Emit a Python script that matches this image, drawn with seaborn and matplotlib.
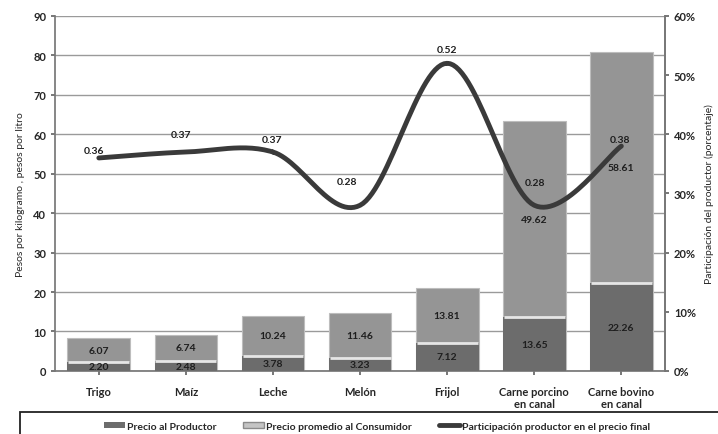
import numpy as np
import pandas as pd
import matplotlib
matplotlib.use("Agg")
import matplotlib.pyplot as plt
import seaborn as sns
from matplotlib.patches import Patch, Rectangle
from matplotlib.lines import Line2D

productos = ["Trigo", "Maíz", "Leche", "Melón", "Frijol",
             "Carne porcino\nen canal", "Carne bovino\nen canal"]
precio_productor = [2.20, 2.48, 3.78, 3.23, 7.12, 13.65, 22.26]
precio_consumidor = [6.07, 6.74, 10.24, 11.46, 13.81, 49.62, 58.61]
participacion = [0.36, 0.37, 0.37, 0.28, 0.52, 0.28, 0.38]

df = pd.DataFrame({"Producto": productos,
                   "Productor": precio_productor,
                   "Consumidor": precio_consumidor,
                   "Participacion": participacion})
df["Total"] = df["Productor"] + df["Consumidor"]

sns.set_theme(style="white")
plt.rcParams["font.family"] = ["Lato", "DejaVu Sans"]

fig, ax = plt.subplots(figsize=(7.18, 4.35), dpi=100)
fig.subplots_adjust(left=0.077, right=0.926, top=0.961, bottom=0.145)

c_prod = "#6c6c6c"
c_cons = "#959595"
c_line = "#3a3a3a"
c_txt = "#1e1e1e"

sns.barplot(data=df, x="Producto", y="Total", color=c_cons, saturation=1,
            width=0.72, edgecolor="#bdbdbd", linewidth=0.8, ax=ax, zorder=2)
sns.barplot(data=df, x="Producto", y="Productor", color=c_prod, saturation=1,
            width=0.72, edgecolor="none", ax=ax, zorder=3)

xs = np.arange(len(df))
ax.hlines(df["Productor"], xs - 0.35, xs + 0.35, color="#e6e6e6", lw=2, zorder=4)

for i, row in df.iterrows():
    ax.text(i, row["Productor"] / 2, f"{row['Productor']:.2f}", ha="center",
            va="center", fontsize=7.5, fontweight="bold", color=c_txt, zorder=6)
    ax.text(i, row["Productor"] + row["Consumidor"] / 2, f"{row['Consumidor']:.2f}",
            ha="center", va="center", fontsize=7.5, fontweight="bold", color=c_txt,
            zorder=6)

ax.set_ylim(0, 90)
ax.set_yticks(range(0, 91, 10))
ax.set_xlim(-0.5, len(df) - 0.5)
ax.yaxis.grid(True, color="#9a9a9a", lw=1)
ax.set_axisbelow(True)
ax.set_xlabel("")
ax.set_ylabel("Pesos por kilogramo , pesos por litro", fontsize=7.5, labelpad=6)
ax.tick_params(axis="y", labelsize=8, length=3, left=True, color="#666666")
ax.tick_params(axis="x", labelsize=8, length=3, bottom=True, color="#666666", pad=8)
for lab in ax.get_yticklabels() + ax.get_xticklabels():
    lab.set_fontweight("bold")
    lab.set_linespacing(1.1)
ax.spines["top"].set_visible(False)
for s in ["left", "bottom", "right"]:
    ax.spines[s].set_color("#777777")

# smooth line, Catmull-Rom style
ax2 = ax.twinx()
p = np.array(participacion)
pts_x = np.concatenate([[xs[0]], xs, [xs[-1]]])
pts_y = np.concatenate([[p[0]], p, [p[-1]]])
sx, sy = [], []
t = np.linspace(0, 1, 30)
for k in range(1, len(pts_x) - 2):
    x0, x1, x2, x3 = pts_x[k - 1:k + 3]
    y0, y1, y2, y3 = pts_y[k - 1:k + 3]
    for arr, (a0, a1, a2, a3) in ((sx, (x0, x1, x2, x3)), (sy, (y0, y1, y2, y3))):
        arr.extend(0.5 * ((2 * a1) + (-a0 + a2) * t +
                          (2 * a0 - 5 * a1 + 4 * a2 - a3) * t ** 2 +
                          (-a0 + 3 * a1 - 3 * a2 + a3) * t ** 3))
ax2.plot(sx, sy, color=c_line, lw=3.5, zorder=5, solid_capstyle="round")
ax2.set_ylim(0, 0.6)
ax2.set_yticks(np.arange(0, 0.61, 0.1))
ax2.set_yticklabels([f"{int(round(v * 100))}%" for v in np.arange(0, 0.61, 0.1)],
                    fontsize=8, fontweight="bold")
ax2.tick_params(axis="y", length=3, right=True, color="#666666")
ax2.set_ylabel("Participación del productor (porcentaje)", fontsize=7.5, labelpad=6)
ax2.grid(False)
for s in ["top", "left", "bottom"]:
    ax2.spines[s].set_visible(False)
ax2.spines["right"].set_color("#777777")

label_dy = [0.012, 0.03, 0.022, 0.041, 0.023, 0.039, 0.012]
label_dx = [-0.06, -0.06, -0.01, -0.15, 0.0, 0.01, -0.01]
for i, v in enumerate(participacion):
    ax2.text(xs[i] + label_dx[i], v + label_dy[i], f"{v:.2f}", ha="center",
             va="center", fontsize=7.5, fontweight="bold", color=c_txt, zorder=7)

# legend box along the bottom edge
fig.patches.append(Rectangle((0.028, -0.02), 1.0, 0.07, transform=fig.transFigure,
                             facecolor="white", edgecolor="#222222", lw=1.3))
handles = [Patch(facecolor=c_prod, edgecolor="none"),
           Patch(facecolor="#c4c4c4", edgecolor="#8a8a8a"),
           Line2D([0], [0], color=c_line, lw=3.5)]
labels = ["Precio al Productor", "Precio promedio al Consumidor",
          "Participación productor en el precio final"]
leg = fig.legend(handles, labels, loc="center", ncol=3,
                 bbox_to_anchor=(0.525, 0.018), frameon=False,
                 prop={"size": 7.5, "weight": "bold"}, columnspacing=2.6,
                 handlelength=2.0, handleheight=0.6, handletextpad=0.2)

fig.savefig("out.png", dpi=100)
